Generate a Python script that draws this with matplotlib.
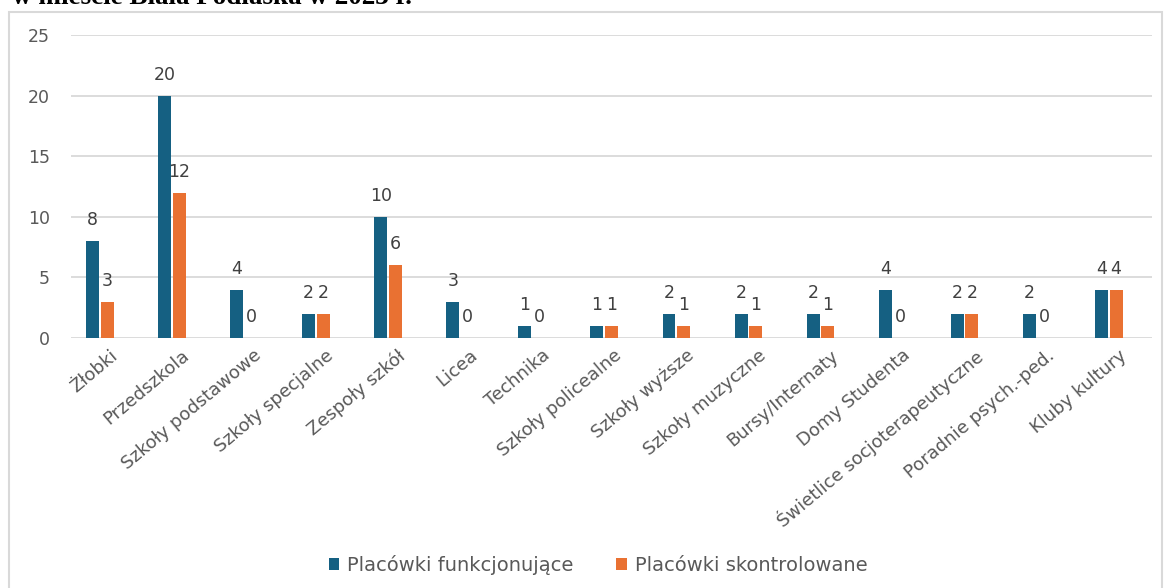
import matplotlib.pyplot as plt
import numpy as np
from matplotlib.patches import Rectangle

plt.rcParams['font.family'] = ['DejaVu Sans']

categories = ["Żłobki", "Przedszkola", "Szkoły podstawowe", "Szkoły specjalne",
              "Zespoły szkół", "Licea", "Technika", "Szkoły policealne",
              "Szkoły wyższe", "Szkoły muzyczne", "Bursy/Internaty",
              "Domy Studenta", "Świetlice socjoterapeutyczne",
              "Poradnie psych.-ped.", "Kluby kultury"]
funkcjonujace = [8, 20, 4, 2, 10, 3, 1, 1, 2, 2, 2, 4, 2, 2, 4]
skontrolowane = [3, 12, 0, 2, 6, 0, 0, 1, 1, 1, 1, 0, 2, 0, 4]
series_names = ["Placówki funkcjonujące", "Placówki skontrolowane"]

blue = "#156082"
orange = "#E97132"

fig = plt.figure(figsize=(11.68, 5.88), dpi=100)
ax = fig.add_axes([71 / 1168, 1 - 338 / 588, 1081 / 1168, 303 / 588])

x = np.arange(len(categories))
w = 0.18
b1 = ax.bar(x - w / 2 - 0.012, funkcjonujace, w, color=blue, label=series_names[0], zorder=3)
b2 = ax.bar(x + w / 2 + 0.012, skontrolowane, w, color=orange, label=series_names[1], zorder=3)

# value labels above each bar
for bars, vals in ((b1, funkcjonujace), (b2, skontrolowane)):
    for r, v in zip(bars, vals):
        ax.annotate(str(v), (r.get_x() + r.get_width() / 2, v), xytext=(0, 15),
                    textcoords="offset points", ha="center", va="center",
                    fontsize=12.5, color="#404040")

ax.set_ylim(0, 25)
ax.set_yticks(range(0, 26, 5))
ax.set_xlim(-0.4, 14.6)
ax.grid(axis="y", color="#d9d9d9", linewidth=1.3, zorder=0)
for s in ax.spines.values():
    s.set_visible(False)
ax.tick_params(axis="y", length=0, pad=15, labelsize=12.5, labelcolor="#595959")
ax.tick_params(axis="x", length=0, pad=6, labelsize=13, labelcolor="#595959")
ax.set_xticks(x + 0.13)
ax.set_xticklabels(categories, rotation=40, ha="right", rotation_mode="anchor")

fig.legend(handles=[b1, b2], loc="center", bbox_to_anchor=(598 / 1168, 1 - 565 / 588),
           ncol=2, frameon=False, fontsize=14, labelcolor="#595959",
           handlelength=0.55, handleheight=0.55, handletextpad=0.4, columnspacing=2.2)

fig.patches.append(Rectangle((8.5 / 1168, -0.05), (1162 - 8.5) / 1168, 1.05 - 12 / 588,
                             transform=fig.transFigure, fill=False,
                             edgecolor="#d9d9d9", linewidth=1.5))

fig.text(12 / 1168, 1 - 4 / 588, "w mieście Biała Podlaska w 2023 r.",
         family="Liberation Serif", fontweight="bold", fontsize=19.5,
         va="baseline", ha="left", color="black")

fig.savefig("out.png", dpi=100)
